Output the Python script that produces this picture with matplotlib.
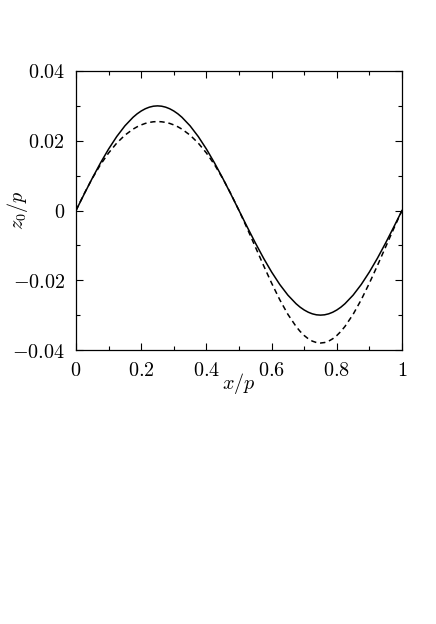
import numpy as np
import matplotlib
matplotlib.use('Agg')
from matplotlib import pyplot as plt
from matplotlib.ticker import MultipleLocator, FixedLocator, FixedFormatter

plt.rcParams['mathtext.fontset'] = 'cm'
plt.rcParams['font.family'] = 'DejaVu Serif'

# values (finer steps near the extrema)
x = [0, 0.025, 0.05, 0.075, 0.1, 0.125, 0.15, 0.175, 0.1875, 0.2, 0.2125, 0.225, 0.2375, 0.25,
     0.2625, 0.275, 0.2875, 0.3, 0.3125, 0.325, 0.35, 0.375, 0.4, 0.425, 0.45, 0.475, 0.5,
     0.525, 0.55, 0.575, 0.6, 0.625, 0.65, 0.675, 0.6875, 0.7, 0.7125, 0.725, 0.7375, 0.75,
     0.7625, 0.775, 0.7875, 0.8, 0.8125, 0.825, 0.85, 0.875, 0.9, 0.925, 0.95, 0.975, 1]
z_solid = [0, 0.00469, 0.00927, 0.01362, 0.01763, 0.02121, 0.02427, 0.02673, 0.02772, 0.02853, 0.02917, 0.02963, 0.02991, 0.03,
           0.02991, 0.02963, 0.02917, 0.02853, 0.02772, 0.02673, 0.02427, 0.02121, 0.01763, 0.01362, 0.00927, 0.00469, 0,
           -0.00469, -0.00927, -0.01362, -0.01763, -0.02121, -0.02427, -0.02673, -0.02772, -0.02853, -0.02917, -0.02963, -0.02991, -0.03,
           -0.02991, -0.02963, -0.02917, -0.02853, -0.02772, -0.02673, -0.02427, -0.02121, -0.01763, -0.01362, -0.00927, -0.00469, 0]
z_dashed = [0, 0.00481, 0.00921, 0.01313, 0.0165, 0.01933, 0.0216, 0.02333, 0.024, 0.02454, 0.02497, 0.02526, 0.02544, 0.0255,
            0.02544, 0.02526, 0.02497, 0.02454, 0.024, 0.02333, 0.0216, 0.01933, 0.0165, 0.01313, 0.00921, 0.00481, 0,
            -0.00512, -0.01041, -0.0157, -0.02082, -0.02558, -0.02978, -0.03325, -0.03467, -0.03585, -0.03678, -0.03746, -0.03786, -0.038,
            -0.03786, -0.03746, -0.03678, -0.03585, -0.03467, -0.03325, -0.02978, -0.02558, -0.02082, -0.0157, -0.01041, -0.00512, 0]

xticks = [0, 0.2, 0.4, 0.6, 0.8, 1]
xticklabels = ['$0$', '$0.2$', '$0.4$', '$0.6$', '$0.8$', '$1$']
yticks = [-0.04, -0.02, 0, 0.02, 0.04]
yticklabels = ['$-0.04$', '$-0.02$', '$0$', '$0.02$', '$0.04$']

fig = plt.figure(figsize=(4.36, 6.24), dpi=100)
ax = fig.add_axes([76/436, 1-350/624, 326/436, 279/624])

ax.plot(x, z_solid, 'k-', lw=1.1)
ax.plot(x, z_dashed, 'k--', lw=1.1, dashes=(3.5, 2.5))

ax.set_xlim(0, 1)
ax.set_ylim(-0.04, 0.04)
ax.xaxis.set_major_locator(FixedLocator(xticks))
ax.xaxis.set_major_formatter(FixedFormatter(xticklabels))
ax.yaxis.set_major_locator(FixedLocator(yticks))
ax.yaxis.set_major_formatter(FixedFormatter(yticklabels))
ax.xaxis.set_minor_locator(MultipleLocator(0.1))
ax.yaxis.set_minor_locator(MultipleLocator(0.01))
ax.tick_params(which='both', direction='in', top=True, right=True, width=0.8)
ax.tick_params(which='major', length=5, labelsize=14.5, pad=8)
ax.tick_params(which='minor', length=3)
for s in ax.spines.values():
    s.set_linewidth(0.9)

ax.set_xlabel('$x/p$', fontsize=14.5)
ax.xaxis.set_label_coords(0.5, -0.075)
ax.set_ylabel('$z_0/p$', fontsize=14.5)
ax.yaxis.set_label_coords(-0.14, 0.5)

fig.savefig('out.png', dpi=100)
